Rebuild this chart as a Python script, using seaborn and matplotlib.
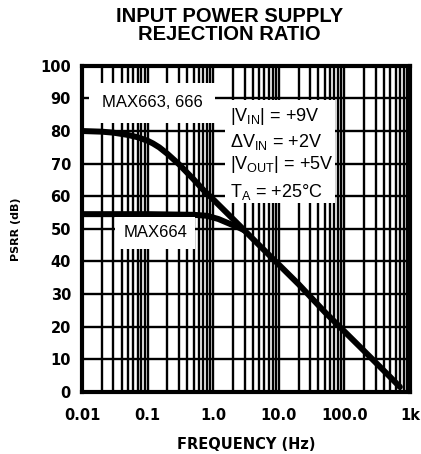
import numpy as np
import pandas as pd
import matplotlib
matplotlib.use("Agg")
import matplotlib.pyplot as plt
import seaborn as sns
from matplotlib.ticker import LogLocator, NullFormatter, FixedLocator
from matplotlib.patches import Rectangle

# --- Data ---
freq_663 = [0.01, 0.02, 0.03, 0.05, 0.07, 0.1, 0.12, 0.15, 0.2, 0.3, 0.5, 0.7, 1, 2, 5, 10, 20, 50, 100, 200, 500, 700]
psrr_663 = [80, 79.8, 79.5, 78.8, 78.1, 77, 76.2, 75, 73, 69.8, 65.2, 62, 59, 53, 45, 39, 33, 24.5, 18.5, 12.5, 4.5, 1.5]
freq_664 = [0.01, 0.1, 0.5, 0.8, 1.2, 1.8, 2.5, 3]
psrr_664 = [54.5, 54.5, 54.3, 54, 53, 51.5, 50.3, 49.5]

xtick_vals = [0.01, 0.1, 1, 10, 100, 1000]
xtick_labels = ["0.01", "0.1", "1.0", "10.0", "100.0", "1k"]
ytick_vals = list(range(0, 101, 10))

conditions = ["|V$_\\mathregular{IN}$| = +9V",
              "\u0394V$_\\mathregular{IN}$ = +2V",
              "|V$_\\mathregular{OUT}$| = +5V",
              "T$_\\mathregular{A}$ = +25\u00b0C"]

df = pd.concat([
    pd.DataFrame({"freq": freq_663, "psrr": psrr_663, "part": "MAX663, 666"}),
    pd.DataFrame({"freq": freq_664, "psrr": psrr_664, "part": "MAX664"}),
])

# --- Style ---
sns.set_style("white")
plt.rcParams['font.family'] = ['Liberation Sans', 'DejaVu Sans']
plt.rcParams['text.color'] = 'black'
plt.rcParams['axes.labelcolor'] = 'black'
plt.rcParams['xtick.color'] = 'black'
plt.rcParams['ytick.color'] = 'black'
narrow = ['Liberation Sans Narrow', 'DejaVu Sans']

fig = plt.figure(figsize=(4.21, 4.54), dpi=100)
ax = fig.add_axes([0.195, 0.137, 0.779, 0.718])

sns.lineplot(data=df, x="freq", y="psrr", hue="part", palette=["black", "black"],
             linewidth=4.3, legend=False, ax=ax, zorder=4)

ax.set_xscale("log")
ax.set_xlim(0.01, 1000)
ax.set_ylim(0, 100)

ax.xaxis.set_major_locator(FixedLocator(xtick_vals))
ax.set_xticklabels(xtick_labels)
ax.xaxis.set_minor_locator(LogLocator(base=10, subs=np.arange(2, 10)))
ax.xaxis.set_minor_formatter(NullFormatter())
ax.set_yticks(ytick_vals)

ax.set_axisbelow(True)
ax.grid(which="both", axis="x", color="black", linewidth=1.7)
ax.grid(which="major", axis="y", color="black", linewidth=1.7)
ax.tick_params(which="both", length=0)
ax.tick_params(axis="x", pad=12)
ax.tick_params(axis="y", pad=8)
for lab in ax.get_xticklabels() + ax.get_yticklabels():
    lab.set_family(narrow)
    lab.set_fontweight("bold")
    lab.set_fontsize(10.5)

for sp in ax.spines.values():
    sp.set_color("black")
    sp.set_linewidth(3)

ax.set_xlabel("FREQUENCY (Hz)", family=narrow, fontweight="bold", fontsize=10.5, labelpad=10)
ax.set_ylabel("PSRR (dB)", family=narrow, fontweight="bold", fontsize=8, labelpad=14)

fig.suptitle("INPUT POWER SUPPLY\nREJECTION RATIO", x=0.545, y=0.985, fontsize=14.5,
             fontweight="bold", linespacing=0.95)

# --- Curve labels ---
ax.text(0.117, 88.7, "MAX663, 666", fontsize=12, ha="center", va="center", zorder=5,
        bbox=dict(facecolor="white", edgecolor="none", pad=9))
ax.text(0.13, 48.8, "MAX664", fontsize=12, ha="center", va="center", zorder=5,
        bbox=dict(facecolor="white", edgecolor="none", pad=6))

# --- Conditions box ---
ax.add_patch(Rectangle((0.436, 0.58), 0.335, 0.316, transform=ax.transAxes,
                       facecolor="white", edgecolor="none", zorder=3))
for ypos, line in zip([0.844, 0.767, 0.696, 0.613], conditions):
    ax.text(0.451, ypos, line, transform=ax.transAxes, fontsize=13,
            ha="left", va="center", zorder=5)

fig.savefig("out.png", dpi=100)
